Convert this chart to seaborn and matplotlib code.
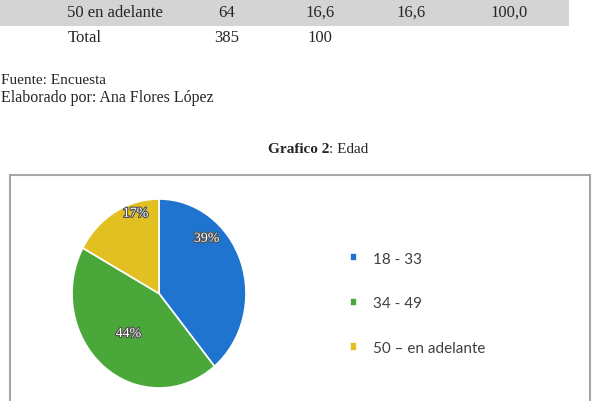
import matplotlib.pyplot as plt
import matplotlib.patheffects as pe
from matplotlib.patches import Rectangle
import seaborn as sns
import numpy as np

sns.set_style("white")
plt.rcParams['font.family'] = ['Liberation Serif', 'DejaVu Serif']

# table rows visible at the top of the page
row_last = ["50 en adelante", "64", "16,6", "16,6", "100,0"]
row_total = ["Total", "385", "100"]
fuente = "Fuente: Encuesta"
autor = "Elaborado por: Ana Flores López"

# pie data
age_groups = ["18 - 33", "34 - 49", "50 – en adelante"]
age_share = [39, 44, 17]
colors = ["#1F74D0", "#4AA83A", "#E3C022"]

W, H = 593, 402
fig = plt.figure(figsize=(W / 100, H / 100), dpi=100)


def fx(px):
    return px / W


def fy(py):
    return 1 - py / H


# gray band behind the last table row
fig.patches.append(Rectangle((0, fy(27)), fx(569), 27 / H, transform=fig.transFigure,
                             facecolor="#d4d4d4", edgecolor="none", zorder=0))

col_x = [67, 227, 320, 411, 509]
for i, val in enumerate(row_last):
    fig.text(fx(col_x[i]), fy(13), val, ha="left" if i == 0 else "center",
             va="center", fontsize=12)
for i, val in enumerate(row_total):
    fig.text(fx(col_x[i] + (1 if i == 0 else 0)), fy(38), val,
             ha="left" if i == 0 else "center", va="center", fontsize=12)

fig.text(fx(1), fy(80), fuente, ha="left", va="center", fontsize=11)
fig.text(fx(1), fy(98), autor, ha="left", va="center", fontsize=11.5)

# caption
fig.text(fx(329), fy(150), "Grafico 2", ha="right", va="center", fontsize=11, fontweight="bold")
fig.text(fx(329), fy(150), ": Edad", ha="left", va="center", fontsize=11)

# chart frame
fig.patches.append(Rectangle((fx(10), fy(410)), fx(580), 234 / H, transform=fig.transFigure,
                             facecolor="none", edgecolor="#a6a6a6", linewidth=1.5, zorder=0))

# pie axes
ax = fig.add_axes([fx(72), fy(389), fx(174), 189 / H])
wedges, texts, autotexts = ax.pie(age_share, colors=colors, startangle=90, counterclock=False,
                                  autopct="%.0f%%", wedgeprops=dict(edgecolor="white", linewidth=1.2),
                                  textprops=dict(color="white", fontsize=10))
ax.set_aspect("auto")
ax.set_xlim(-1, 1)
ax.set_ylim(-1, 1)
ax.axis("off")

# label placement similar to the original office chart
shifts = [(27, 0.80), (0, 0.55), (-13, 0.89)]
for w, t, (dang, dist) in zip(wedges, autotexts, shifts):
    mid = np.deg2rad((w.theta1 + w.theta2) / 2 + dang)
    t.set_position((dist * np.cos(mid), dist * np.sin(mid)))
    t.set_path_effects([pe.withStroke(linewidth=1.6, foreground="#505050")])

leg = fig.legend(wedges, age_groups, loc="upper left", bbox_to_anchor=(fx(336), fy(239)),
                 frameon=False, handlelength=0.45, handleheight=0.45, handletextpad=1.1,
                 labelspacing=2.0, prop=dict(family=["Lato", "DejaVu Sans"], size=11))
for txt in leg.get_texts():
    txt.set_color("#404040")

fig.savefig("out.png", dpi=100)
